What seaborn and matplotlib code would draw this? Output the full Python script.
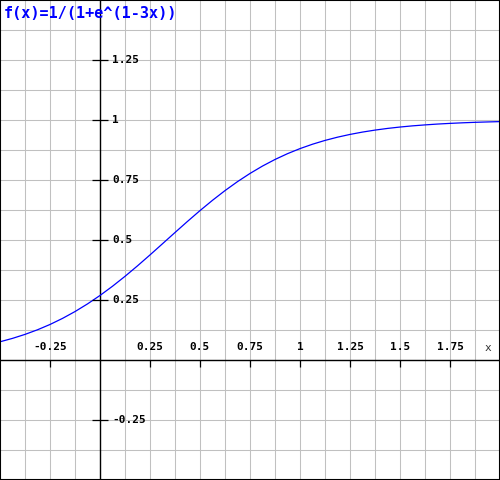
import numpy as np
import pandas as pd
import seaborn as sns
import matplotlib
matplotlib.use('Agg')
import matplotlib.pyplot as plt
from matplotlib.patches import Rectangle

# curve values, f(x)=1/(1+e^(1-3x))
x_vals = [-0.5, -0.4375, -0.375, -0.3125, -0.25, -0.1875, -0.125, -0.0625,
          0.0, 0.0625, 0.125, 0.1875, 0.25, 0.3125, 0.375, 0.4375,
          0.5, 0.5625, 0.625, 0.6875, 0.75, 0.8125, 0.875, 0.9375,
          1.0, 1.0625, 1.125, 1.1875, 1.25, 1.3125, 1.375, 1.4375,
          1.5, 1.5625, 1.625, 1.6875, 1.75, 1.8125, 1.875, 1.9375, 2.0]
y_vals = [0.0759, 0.0901, 0.1067, 0.1259, 0.1480, 0.1733, 0.2018, 0.2337,
          0.2689, 0.3073, 0.3486, 0.3923, 0.4378, 0.4844, 0.5312, 0.5775,
          0.6225, 0.6654, 0.7058, 0.7432, 0.7773, 0.8081, 0.8355, 0.8597,
          0.8808, 0.8991, 0.9149, 0.9284, 0.9399, 0.9497, 0.9579, 0.9649,
          0.9707, 0.9756, 0.9796, 0.9831, 0.9859, 0.9883, 0.9903, 0.9919, 0.9933]

x_ticks = [-0.25, 0.25, 0.5, 0.75, 1, 1.25, 1.5, 1.75]
x_labels = ['-0.25', '0.25', '0.5', '0.75', '1', '1.25', '1.5', '1.75']
y_ticks = [-0.25, 0.25, 0.5, 0.75, 1, 1.25]
y_labels = ['-0.25', '0.25', '0.5', '0.75', '1', '1.25']
title = 'f(x)=1/(1+e^(1-3x))'

sns.set_style('white')
plt.rcParams['font.family'] = ['DejaVu Sans Mono']
plt.rcParams['xtick.color'] = 'black'
plt.rcParams['ytick.color'] = 'black'

fig = plt.figure(figsize=(5, 4.8), dpi=100)
ax = fig.add_axes([0, 0, 1, 1])
ax.set_xlim(-0.5, 2.0)
ax.set_ylim(-0.5, 1.5)

# grid every 0.125
for gx in np.arange(-0.375, 2.0, 0.125):
    ax.axvline(gx, color='#c0c0c0', lw=0.75, zorder=1)
for gy in np.arange(-0.375, 1.5, 0.125):
    ax.axhline(gy, color='#c0c0c0', lw=0.75, zorder=1)

df = pd.DataFrame({'x': x_vals, 'y': y_vals})
sns.lineplot(data=df, x='x', y='y', ax=ax, color='#0000ff', lw=0.9, zorder=5)

# axes through origin
for s in ['top', 'right']:
    ax.spines[s].set_visible(False)
ax.spines['left'].set_position(('data', 0))
ax.spines['bottom'].set_position(('data', 0))
for s in ['left', 'bottom']:
    ax.spines[s].set_color('black')
    ax.spines[s].set_linewidth(1.0)
    ax.spines[s].set_zorder(4)

ax.set_xticks(x_ticks)
ax.set_yticks(y_ticks)
ax.set_xticklabels([])
ax.set_yticklabels([])
ax.xaxis.set_zorder(6)
ax.yaxis.set_zorder(6)
ax.tick_params(axis='x', which='major', bottom=True, direction='out',
               length=5, width=0.9, color='black')
ax.tick_params(axis='y', which='major', left=True, direction='inout',
               length=12, width=0.9, color='black')
ax.set_xlabel('')
ax.set_ylabel('')

for t, lab in zip(x_ticks, x_labels):
    ax.text(t, 0.055, lab, ha='center', va='center', fontsize=8,
            fontweight='bold', color='black')
for t, lab in zip(y_ticks, y_labels):
    ax.text(0.06, t, lab, ha='left', va='center', fontsize=8,
            fontweight='bold', color='black')
ax.text(1.94, 0.05, 'x', ha='center', va='center', fontsize=8, color='#333333')

fig.text(4 / 500, 1 - 14 / 480, title, ha='left', va='center', fontsize=10.9,
         fontweight='bold', color='#0000ff')

fig.patches.append(Rectangle((0, 0), 1, 1, transform=fig.transFigure,
                             fill=False, edgecolor='black', lw=1.5))

fig.savefig('out.png', dpi=100)
